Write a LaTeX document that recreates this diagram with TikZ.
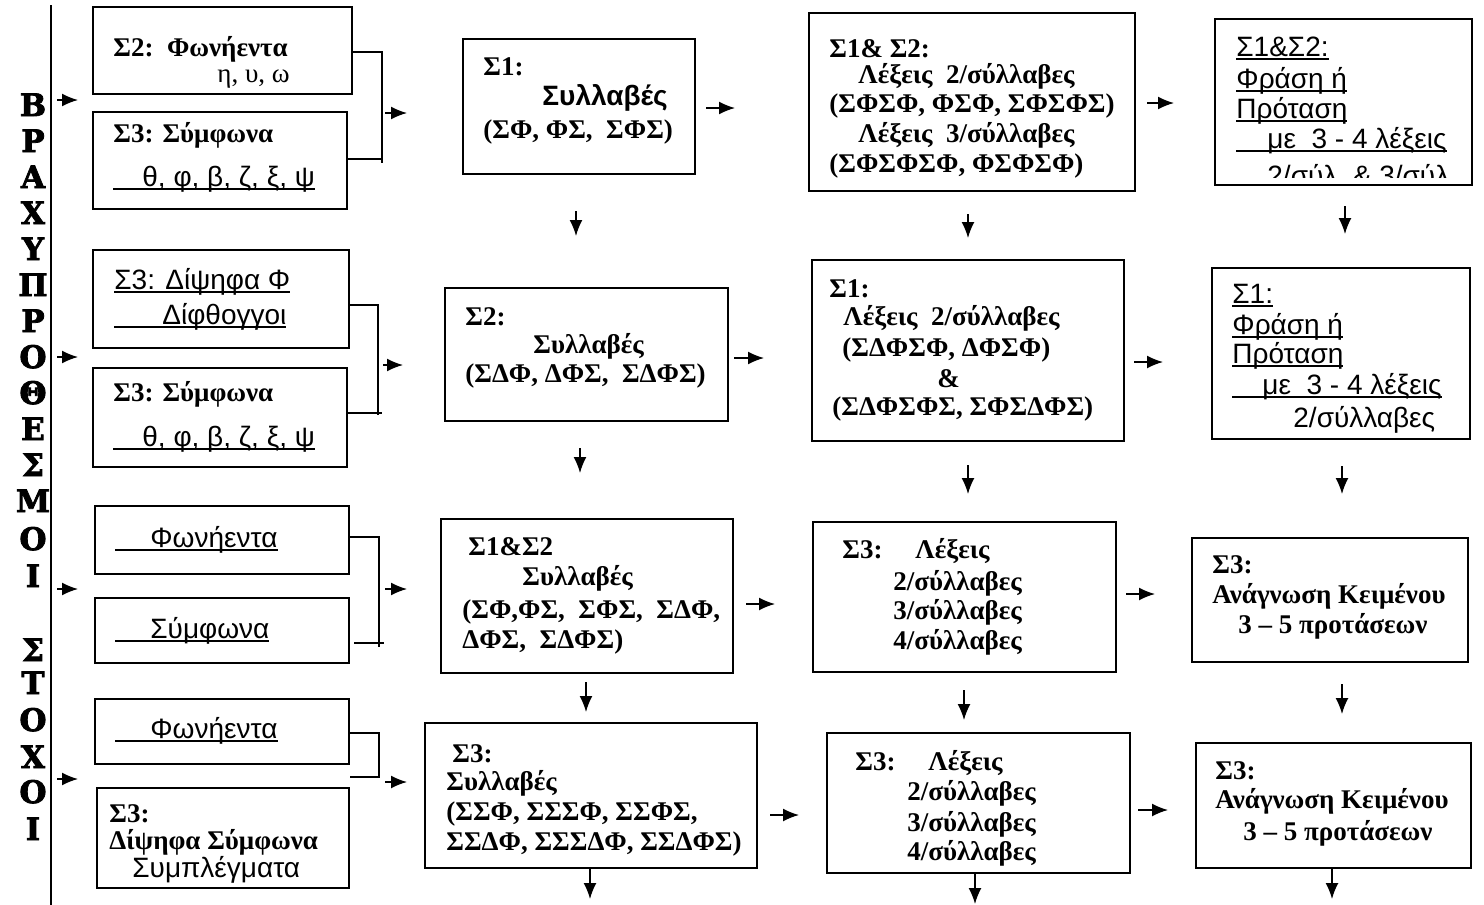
\documentclass[tikz,border=0pt]{standalone}
\usepackage{fontspec}
\setmainfont{Liberation Serif}
\newfontfamily\sansf{Liberation Sans}
\newfontfamily\vletf[BoldFeatures={FakeBold=2.5}]{DejaVu Serif}
\usetikzlibrary{arrows.meta,fit}
\newcommand\ulx[2]{\setbox0=\hbox{#2}\hbox{\kern-#1\rule[-2pt]{\dimexpr\wd0+#1\relax}{1pt}\kern-\wd0\box0}}
\tikzset{
  bx/.style={draw, line width=1pt, inner sep=0pt},
  sb/.style={anchor=base west, inner sep=0pt, font=\fontsize{13.5}{16}\selectfont\bfseries},
  sr/.style={anchor=base west, inner sep=0pt, font=\fontsize{13.5}{16}\selectfont},
  ss/.style={anchor=base west, inner sep=0pt, font=\sansf\fontsize{14}{16}\selectfont},
  ssb/.style={anchor=base west, inner sep=0pt, font=\sansf\bfseries\fontsize{14}{16}\selectfont},
  vlet/.style={anchor=base, inner sep=0pt, font=\vletf\bfseries\fontsize{15.5}{18}\selectfont},
  arr/.style={-{Latex[length=8pt,width=6.5pt]}, line width=0.75pt},
  conn/.style={line width=0.75pt}
}
\begin{document}
\begin{tikzpicture}[x=0.5pt,y=-0.5pt]
\useasboundingbox (0,0) rectangle (1484,905);
% left vertical title
\coordinate (vtop) at (51,5);
\coordinate (vbot) at (51,905);
\draw[conn] (vtop) -- (vbot);
\foreach \l/\yy [count=\i] in {Β/105,Ρ/141,Α/177,Χ/213,Υ/249,Π/285,Ρ/321,Ο/357,Θ/393,Ε/429,Σ/465,Μ/501,Ο/539,Ι/576,Σ/650,Τ/683,Ο/720,Χ/757,Ο/792,Ι/829}
  \node[vlet] (v\i) at (33,\yy+11) {\l};
% boxes
\node[bx, fit={(93,7) (352,94)}] (A1) {};
\node[bx, fit={(93,112) (347,209)}] (A2) {};
\node[bx, fit={(93,250) (349,348)}] (B1) {};
\node[bx, fit={(93,368) (347,467)}] (B2) {};
\node[bx, fit={(95,506) (349,574)}] (C1) {};
\node[bx, fit={(95,598) (349,663)}] (C2) {};
\node[bx, fit={(95,699) (349,764)}] (D1) {};
\node[bx, fit={(97,788) (349,888)}] (D2) {};
\node[bx, fit={(463,39) (695,174)}] (E1) {};
\node[bx, fit={(445,288) (728,421)}] (E2) {};
\node[bx, fit={(441,519) (733,673)}] (F1) {};
\node[bx, fit={(425,723) (757,868)}] (F2) {};
\node[bx, fit={(809,13) (1135,191)}] (G1) {};
\node[bx, fit={(812,260) (1124,441)}] (G2) {};
\node[bx, fit={(813,522) (1116,672)}] (G3) {};
\node[bx, fit={(827,733) (1130,873)}] (G4) {};
\node[bx, fit={(1215,19) (1472,185)}] (H1) {};
\node[bx, fit={(1212,268) (1470,439)}] (H2) {};
\node[bx, fit={(1192,538) (1468,662)}] (H3) {};
\node[bx, fit={(1196,743) (1471,868)}] (H4) {};
% texts column 1
\node[sb] (A1a) at (113,56) {Σ2:\ \ Φωνήεντα};
\node[sr] (A1b) at (217,82) {η, υ, ω};
\node[sb] (A2a) at (113,142) {Σ3: Σύμφωνα};
\node[ss] (A2b) at (142,186) {\ulx{14.5pt}{θ, φ, β, ζ, ξ, ψ}};
\node[ss] (B1a) at (114,289) {\ulx{0pt}{Σ3: Δίψηφα Φ}};
\node[ss] (B1b) at (162,324) {\ulx{24pt}{Δίφθογγοι}};
\node[sb] (B2a) at (113,401) {Σ3: Σύμφωνα};
\node[ss] (B2b) at (142,446) {\ulx{14.5pt}{θ, φ, β, ζ, ξ, ψ}};
\node[ss] (C1a) at (150,547) {\ulx{17.5pt}{Φωνήεντα}};
\node[ss] (C2a) at (150,638) {\ulx{17.5pt}{Σύμφωνα}};
\node[ss] (D1a) at (150,738) {\ulx{17.5pt}{Φωνήεντα}};
\node[sb] (D2a) at (109,822) {Σ3:};
\node[sb] (D2b) at (109,849) {Δίψηφα Σύμφωνα};
\node[ss] (D2c) at (132,877) {Συμπλέγματα};
% column 2
\node[sb] (E1a) at (483,75) {Σ1:};
\node[ssb] (E1b) at (542,105) {Συλλαβές};
\node[sb] (E1c) at (483,138) {(ΣΦ, ΦΣ,\ \ ΣΦΣ)};
\node[sb] (E2a) at (465,325) {Σ2:};
\node[sb] (E2b) at (533,353) {Συλλαβές};
\node[sb] (E2c) at (465,382) {(ΣΔΦ, ΔΦΣ,\ \ ΣΔΦΣ)};
\node[sb] (F1a) at (468,555) {Σ1\&Σ2};
\node[sb] (F1b) at (522,585) {Συλλαβές};
\node[sb] (F1c) at (462,618) {(ΣΦ,ΦΣ,\ \ ΣΦΣ,\ \ ΣΔΦ,};
\node[sb] (F1d) at (462,648) {ΔΦΣ,\ \ ΣΔΦΣ)};
\node[sb] (F2a) at (452,762) {Σ3:};
\node[sb] (F2b) at (446,790) {Συλλαβές};
\node[sb] (F2c) at (446,820) {(ΣΣΦ, ΣΣΣΦ, ΣΣΦΣ,};
\node[sb] (F2d) at (446,850) {ΣΣΔΦ, ΣΣΣΔΦ, ΣΣΔΦΣ)};
% column 3
\node[sb] (G1a) at (829,57) {Σ1\& Σ2:};
\node[sb] (G1b) at (858,83) {Λέξεις\ \ 2/σύλλαβες};
\node[sb] (G1c) at (829,112) {(ΣΦΣΦ, ΦΣΦ, ΣΦΣΦΣ)};
\node[sb] (G1d) at (858,142) {Λέξεις\ \ 3/σύλλαβες};
\node[sb] (G1e) at (829,172) {(ΣΦΣΦΣΦ, ΦΣΦΣΦ)};
\node[sb] (G2a) at (829,297) {Σ1:};
\node[sb] (G2b) at (843,325) {Λέξεις\ \ 2/σύλλαβες};
\node[sb] (G2c) at (842,356) {(ΣΔΦΣΦ, ΔΦΣΦ)};
\node[sb] (G2d) at (937,387) {\&};
\node[sb] (G2e) at (832,415) {(ΣΔΦΣΦΣ, ΣΦΣΔΦΣ)};
\node[sb] (G3a) at (842,558) {Σ3:};
\node[sb] (G3b) at (915,558) {Λέξεις};
\node[sb] (G3c) at (893,590) {2/σύλλαβες};
\node[sb] (G3d) at (893,619) {3/σύλλαβες};
\node[sb] (G3e) at (893,649) {4/σύλλαβες};
\node[sb] (G4a) at (855,770) {Σ3:};
\node[sb] (G4b) at (928,770) {Λέξεις};
\node[sb] (G4c) at (907,800) {2/σύλλαβες};
\node[sb] (G4d) at (907,831) {3/σύλλαβες};
\node[sb] (G4e) at (907,860) {4/σύλλαβες};
% column 4
\node[ss] (H1a) at (1236,56) {\ulx{0pt}{Σ1\&Σ2:}};
\node[ss] (H1b) at (1236,88) {\ulx{0pt}{Φράση ή}};
\node[ss] (H1c) at (1236,118) {\ulx{0pt}{Πρόταση}};
\node[ss] (H1d) at (1267,148) {\ulx{15.5pt}{με\ \ 3 - 4 λέξεις}};
\begin{scope}
  \clip (1217,150) rectangle (1470,177);
  \node[ss] (H1e) at (1267,185) {2/σύλ\ \ \& 3/σύλ};
\end{scope}
\node[ss] (H2a) at (1232,303) {\ulx{0pt}{Σ1:}};
\node[ss] (H2b) at (1232,334) {\ulx{0pt}{Φράση ή}};
\node[ss] (H2c) at (1232,363) {\ulx{0pt}{Πρόταση}};
\node[ss] (H2d) at (1262,394) {\ulx{15pt}{με\ \ 3 - 4 λέξεις}};
\node[ss] (H2e) at (1293,427) {2/σύλλαβες};
\node[sb] (H3a) at (1212,573) {Σ3:};
\node[sb] (H3b) at (1212,603) {Ανάγνωση Κειμένου};
\node[sb] (H3c) at (1238,633) {3 – 5 προτάσεων};
\node[sb] (H4a) at (1215,779) {Σ3:};
\node[sb] (H4b) at (1215,808) {Ανάγνωση Κειμένου};
\node[sb] (H4c) at (1243,840) {3 – 5 προτάσεων};
% brackets
\coordinate (cb1) at (382,163);
\coordinate (cb2) at (378,415);
\coordinate (cb3) at (379,647);
\coordinate (cb4) at (379,777);
\draw[conn] ([shift={(0,1.5)}]A1.east) -| (cb1);
\draw[conn] ([shift={(0,-1.5)}]A2.east) -- ++(35,0);
\draw[conn] ([shift={(0,6)}]B1.east) -| (cb2);
\draw[conn] ([shift={(0,-4.5)}]B2.east) -- ++(34,0);
\draw[conn] ([shift={(0,-3)}]C1.east) -| (cb3);
\draw[conn] ([shift={(4,12.5)}]C2.east) -- ++(30,0);
\draw[conn] ([shift={(-2,1.5)}]D1.east) -| (cb4) -- (cb4 -| D2.east);
% left arrows
\coordinate (la1) at (57,100);
\coordinate (la2) at (57,357);
\coordinate (la3) at (57,589);
\coordinate (la4) at (57,779);
\foreach \c in {la1,la2,la3,la4} \draw[arr] (\c) -- ++(21,0);
% bracket arrows
\coordinate (ba1) at (385,113);
\coordinate (ba2) at (383,365);
\coordinate (ba3) at (385,589);
\coordinate (ba4) at (385,782);
\draw[arr] (ba1) -- ++(22,0);
\draw[arr] (ba2) -- ++(20,0);
\draw[arr] (ba3) -- ++(22,0);
\draw[arr] (ba4) -- ++(22,0);
% horizontal arrows
\draw[arr] ([shift={(10,1.5)}]E1.east) -- ++(29,0);
\draw[arr] ([shift={(5,3.5)}]E2.east) -- ++(30,0);
\draw[arr] ([shift={(12,8)}]F1.east) -- ++(29,0);
\draw[arr] ([shift={(12,19.5)}]F2.east) -- ++(29,0);
\draw[arr] ([shift={(11,1)}]G1.east) -- ++(27,0);
\draw[arr] ([shift={(9,11.5)}]G2.east) -- ++(29,0);
\draw[arr] ([shift={(9,-3)}]G3.east) -- ++(29,0);
\draw[arr] ([shift={(7,7)}]G4.east) -- ++(30,0);
% vertical arrows
\draw[arr] ([shift={(-3,36)}]E1.south) -- ++(0,25);
\draw[arr] ([shift={(-6.5,26)}]E2.south) -- ++(0,25);
\draw[arr] ([shift={(-1,8)}]F1.south) -- ++(0,30);
\draw[arr] ([shift={(-1,0)}]F2.south) -- ++(0,30);
\draw[arr] ([shift={(-4,22)}]G1.south) -- ++(0,24);
\draw[arr] ([shift={(0,23)}]G2.south) -- ++(0,29);
\draw[arr] ([shift={(-0.5,17)}]G3.south) -- ++(0,30);
\draw[arr] ([shift={(-3.5,0)}]G4.south) -- ++(0,30);
\draw[arr] ([shift={(1.5,20)}]H1.south) -- ++(0,28);
\draw[arr] ([shift={(1,26)}]H2.south) -- ++(0,28);
\draw[arr] ([shift={(12,21)}]H3.south) -- ++(0,30);
\draw[arr] ([shift={(-1.5,0)}]H4.south) -- ++(0,30);
\end{tikzpicture}
\end{document}
